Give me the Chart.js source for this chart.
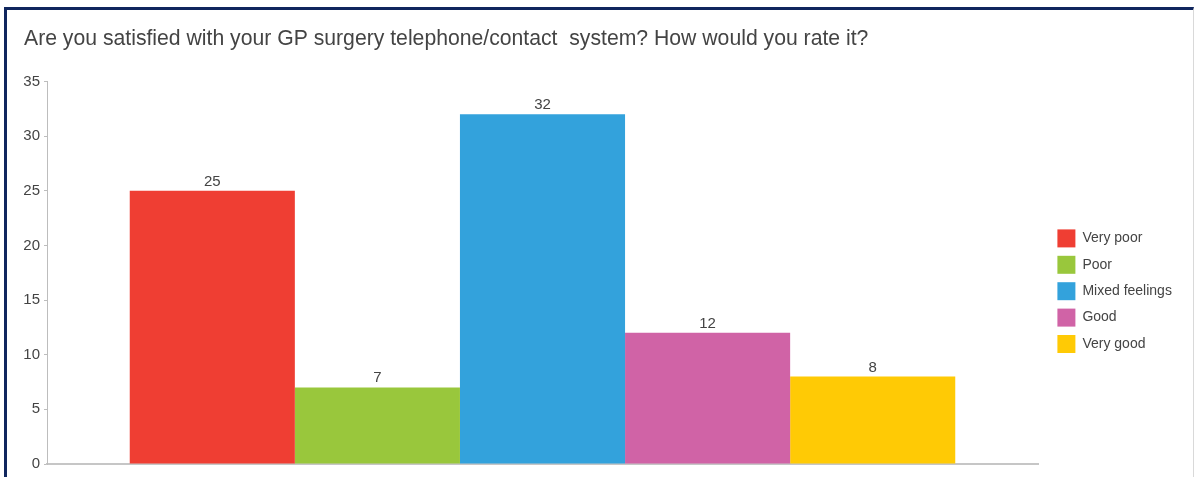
<!DOCTYPE html>
<html>
<head>
<meta charset="utf-8">
<script src="https://cdn.jsdelivr.net/npm/chart.js@4/dist/chart.umd.min.js"></script>
<style>
  html, body { margin: 0; padding: 0; background: #ffffff; }
  body { position: relative; width: 1195px; height: 477px; overflow: hidden; }
  #frame {
    position: absolute; left: 4px; top: 7px; width: 1186px; height: 520px;
    border-top: 3px solid #10265e; border-left: 3px solid #10265e;
    border-right: 1px solid #d9d9d9;
  }
  #wrap { position: absolute; left: 0; top: 0; width: 1195px; height: 477px; }
</style>
</head>
<body>
<div id="frame"></div>
<div id="wrap"><canvas id="chart"></canvas></div>
<script>
// Survey answers: one group of bars, one dataset per rating
const chartTitle = 'Are you satisfied with your GP surgery telephone/contact  system? How would you rate it?';
const categories = [''];
const ratings = ['Very poor', 'Poor', 'Mixed feelings', 'Good', 'Very good'];
const counts = [25, 7, 32, 12, 8];
const ratingColors = ['#EF3E33', '#99C73C', '#33A2DC', '#D063A6', '#FFCA05'];
const yTicks = [0, 5, 10, 15, 20, 25, 30, 35];

const textColor = '#444444';
const fontFamily = '"Liberation Sans", Arial, sans-serif';

// Writes each bar's value just above it
const valueLabels = {
  id: 'valueLabels',
  afterDatasetsDraw(chart) {
    const ctx = chart.ctx;
    ctx.save();
    ctx.font = '15px ' + fontFamily;
    ctx.fillStyle = textColor;
    ctx.textAlign = 'center';
    ctx.textBaseline = 'alphabetic';
    chart.data.datasets.forEach((ds, i) => {
      const meta = chart.getDatasetMeta(i);
      meta.data.forEach((bar, j) => {
        ctx.fillText(String(ds.data[j]), bar.x, bar.y - 5);
      });
    });
    ctx.restore();
  }
};

// Fixed-width legend column, with its items set beside the middle of the plot
const legendPlacement = {
  id: 'legendPlacement',
  beforeInit(chart) {
    const lg = chart.legend;
    if (!lg) return;
    const baseFit = lg.fit;
    lg.fit = function () {
      baseFit.call(this);
      this.width = 157;
    };
  },
  afterLayout(chart) {
    const lg = chart.legend;
    if (!lg) return;
    const dx = 11;
    lg.left += dx; lg.right += dx;
    const dy = 221;
    lg.top += dy; lg.bottom += dy;
  }
};

new Chart(document.getElementById('chart'), {
  type: 'bar',
  data: {
    labels: categories,
    datasets: ratings.map((name, i) => ({
      label: name,
      data: [counts[i]],
      backgroundColor: ratingColors[i],
      borderWidth: 0,
      categoryPercentage: 0.833,
      barPercentage: 1.0
    }))
  },
  options: {
    responsive: true,
    maintainAspectRatio: false,
    animation: false,
    layout: { padding: { left: 24, right: 0, top: 0, bottom: 13 } },
    plugins: {
      title: {
        display: true,
        text: chartTitle,
        align: 'start',
        color: textColor,
        font: { family: fontFamily, size: 21.2, weight: 'normal' },
        padding: { top: 26, bottom: 30 }
      },
      legend: {
        position: 'right',
        align: 'start',
        labels: {
          boxWidth: 18,
          boxHeight: 18,
          padding: 8.4,
          color: textColor,
          font: { family: fontFamily, size: 14 }
        }
      },
      tooltip: { enabled: false }
    },
    scales: {
      x: {
        ticks: { display: false },
        grid: { display: false, drawTicks: false },
        border: { display: true, color: '#c6c6c6', width: 2 }
      },
      y: {
        min: 0,
        max: 35,
        afterBuildTicks(scale) { scale.ticks = yTicks.map(v => ({ value: v })); },
        afterFit(scale) { scale.width = 23; },
        ticks: {
          color: textColor,
          padding: 4,
          font: { family: fontFamily, size: 15 }
        },
        grid: {
          drawOnChartArea: false,
          drawTicks: true,
          tickLength: 3,
          color: '#bdbdbd'
        },
        border: { display: true, color: '#bdbdbd', width: 1 }
      }
    }
  },
  plugins: [valueLabels, legendPlacement]
});
</script>
</body>
</html>
